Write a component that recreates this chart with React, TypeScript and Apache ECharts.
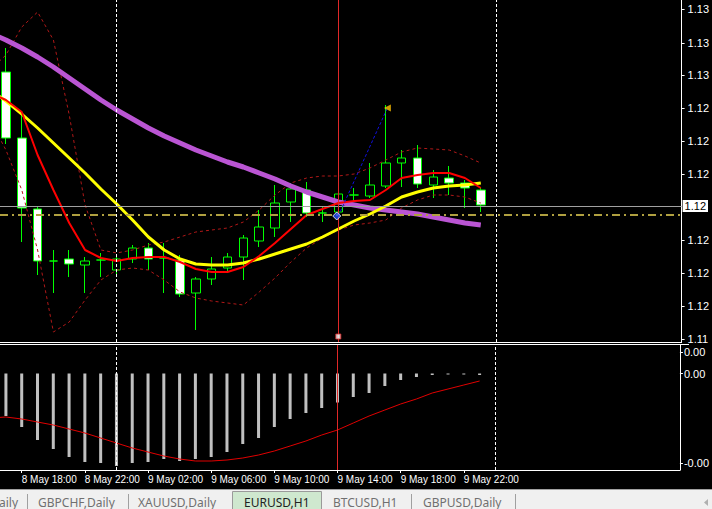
import React, { useEffect, useRef } from 'react';
import * as echarts from 'echarts';

// ---------- data ----------
// bar index 0 = 8 May 17:00 (H1 bars)
const candleOpen = [1.13040, 1.12776, 1.12492, 1.12284, 1.12292, 1.12268, 1.12288, 1.12248, 1.12292, 1.12336, 1.12296, 1.12288, 1.12156, 1.12212, 1.12256, 1.12300, 1.12364, 1.12416, 1.12520, 1.12568, 1.12476, 1.12480, 1.12548, 1.12544, 1.12584, 1.12676, 1.12696, 1.12588, 1.12616, 1.12596, 1.12568];
const candleClose = [1.12776, 1.12496, 1.12284, 1.12284, 1.12272, 1.12284, 1.12288, 1.12292, 1.12336, 1.12292, 1.12296, 1.12152, 1.12212, 1.12252, 1.12300, 1.12376, 1.12420, 1.12516, 1.12572, 1.12476, 1.12476, 1.12552, 1.12548, 1.12588, 1.12676, 1.12696, 1.12592, 1.12620, 1.12596, 1.12576, 1.12508];
const candleLow = [1.12752, 1.12360, 1.12228, 1.12156, 1.12220, 1.12156, 1.12220, 1.12228, 1.12276, 1.12248, 1.12156, 1.12140, 1.12008, 1.12188, 1.12236, 1.12208, 1.12340, 1.12380, 1.12440, 1.12460, 1.12440, 1.12428, 1.12520, 1.12536, 1.12576, 1.12580, 1.12576, 1.12536, 1.12548, 1.12496, 1.12480];
const candleHigh = [1.13136, 1.12884, 1.12504, 1.12328, 1.12328, 1.12300, 1.12316, 1.12308, 1.12348, 1.12356, 1.12356, 1.12308, 1.12220, 1.12300, 1.12316, 1.12388, 1.12488, 1.12588, 1.12596, 1.12600, 1.12500, 1.12608, 1.12576, 1.12676, 1.12908, 1.12728, 1.12748, 1.12648, 1.12664, 1.12608, 1.12580];

// indicator lines start one bar earlier (index -1 = 8 May 16:00)
const maSlow = [1.13196, 1.13168, 1.13136, 1.13100, 1.13060, 1.13016, 1.12972, 1.12928, 1.12888, 1.12852, 1.12816, 1.12784, 1.12756, 1.12728, 1.12704, 1.12680, 1.12660, 1.12636, 1.12612, 1.12584, 1.12560, 1.12540, 1.12520, 1.12508, 1.12496, 1.12488, 1.12480, 1.12472, 1.12460, 1.12448, 1.12436, 1.12428];
const maMid = [1.12968, 1.12924, 1.12872, 1.12816, 1.12756, 1.12696, 1.12636, 1.12572, 1.12512, 1.12448, 1.12380, 1.12328, 1.12292, 1.12272, 1.12268, 1.12268, 1.12276, 1.12292, 1.12312, 1.12332, 1.12352, 1.12380, 1.12412, 1.12444, 1.12472, 1.12504, 1.12540, 1.12560, 1.12576, 1.12584, 1.12588, 1.12596];
const maFast = [1.12956, 1.12928, 1.12880, 1.12708, 1.12568, 1.12436, 1.12328, 1.12296, 1.12284, 1.12296, 1.12300, 1.12300, 1.12280, 1.12252, 1.12240, 1.12240, 1.12260, 1.12304, 1.12356, 1.12412, 1.12468, 1.12492, 1.12516, 1.12524, 1.12528, 1.12568, 1.12616, 1.12628, 1.12636, 1.12636, 1.12616, 1.12576];
const bandUpper = [1.13048, 1.13108, 1.13220, 1.13280, 1.13168, 1.12868, 1.12508, 1.12328, 1.12316, 1.12328, 1.12348, 1.12360, 1.12380, 1.12400, 1.12408, 1.12416, 1.12440, 1.12488, 1.12548, 1.12596, 1.12616, 1.12624, 1.12624, 1.12632, 1.12656, 1.12688, 1.12720, 1.12736, 1.12732, 1.12728, 1.12704, 1.12676];
const bandLower = [1.12848, 1.12728, 1.12568, 1.12328, 1.12000, 1.12040, 1.12128, 1.12208, 1.12248, 1.12256, 1.12248, 1.12208, 1.12160, 1.12136, 1.12124, 1.12116, 1.12108, 1.12160, 1.12216, 1.12280, 1.12336, 1.12376, 1.12408, 1.12428, 1.12436, 1.12448, 1.12496, 1.12528, 1.12548, 1.12548, 1.12540, 1.12516];

// MACD window (bar index 0..30), signal from index -1
const macdHist = [-0.00085, -0.00107, -0.00133, -0.00151, -0.00167, -0.00177, -0.00179, -0.00185, -0.00179, -0.00177, -0.00171, -0.00175, -0.00171, -0.00167, -0.00157, -0.00141, -0.00129, -0.00107, -0.00091, -0.00079, -0.00069, -0.00058, -0.00047, -0.00039, -0.00025, -0.00013, -0.00007, -0.00003, -0.00002, -0.00002, -0.00003];
const macdSignal = [-0.00089, -0.00087, -0.00091, -0.00097, -0.00103, -0.00111, -0.00119, -0.00129, -0.00139, -0.00149, -0.00157, -0.00165, -0.00171, -0.00175, -0.00175, -0.00173, -0.00169, -0.00163, -0.00155, -0.00145, -0.00135, -0.00123, -0.00113, -0.00099, -0.00085, -0.00073, -0.00061, -0.00051, -0.00039, -0.00031, -0.00023, -0.00015];

const timeTickIndex = [1, 5, 9, 13, 17, 21, 25, 29];
const timeTickLabels = ['8 May 18:00', '8 May 22:00', '9 May 02:00', '9 May 06:00', '9 May 10:00', '9 May 14:00', '9 May 18:00', '9 May 22:00'];
const priceTicks = [1.13292, 1.13156, 1.13028, 1.12896, 1.12764, 1.12632, 1.12368, 1.12236, 1.12104, 1.11972];
const macdTicks = [0.00043, 0, -0.00179];
const macdTickLabels = ['0.00', '0.00', '-0.00'];

const bidPrice = 1.12504;
const levelPrice = 1.12468;
const daySeparators = [7, 31];
const markerBar = 21;
const trendStart = [21, 1.12464];
const trendEnd = [24.1, 1.12896];

const tabs = ['aily', 'GBPCHF,Daily', 'XAUUSD,Daily', 'EURUSD,H1', 'BTCUSD,H1', 'GBPUSD,Daily'];

export default function App() {
  const ref = useRef<HTMLDivElement>(null);
  useEffect(() => {
    if (!ref.current) return;
    const chart = echarts.init(ref.current, null, { renderer: 'svg' });
    const FONT = 'Liberation Sans, Arial, sans-serif';
    const TAB_FONT = 'Noto Sans, sans-serif';
    const candles = candleOpen.map((o, i) => [i, o, candleClose[i], candleLow[i], candleHigh[i]]);
    const line = (arr: number[]) => arr.map((v, k) => [k - 1, v]);
    const hist = macdHist.map((v, i) => [i, v]);
    const noLabel = { show: false };

    const vSep = (gridColor: string) =>
      daySeparators.map((x) => ({ xAxis: x, lineStyle: { color: gridColor, type: [3, 2], width: 1 }, label: noLabel }));

    const tabPos = [-1, 38, 138, 244, 333, 423];
    const tabSepX = [27, 128, 411, 515];

    const graphic: any[] = [
      { type: 'line', shape: { x1: 0, y1: 344.5, x2: 689, y2: 344.5 }, style: { stroke: '#fff', lineWidth: 1 } },
      { type: 'rect', shape: { x: 0, y: 489, width: 712, height: 20 }, style: { fill: '#f0f0f0' } },
      { type: 'line', shape: { x1: 0, y1: 489.5, x2: 712, y2: 489.5 }, style: { stroke: '#a0a0a0', lineWidth: 1 } },
      { type: 'rect', shape: { x: 232.5, y: 491.5, width: 89, height: 18 }, style: { fill: '#cfe8cf', stroke: '#9a9a9a', lineWidth: 1 } },
      ...tabSepX.map((x) => ({ type: 'line', shape: { x1: x + 0.5, y1: 494, x2: x + 0.5, y2: 509 }, style: { stroke: '#a0a0a0', lineWidth: 1 } })),
      ...tabs.map((t, k) => ({
        type: 'text', x: tabPos[k], y: 502,
        style: { text: t, fill: k === 3 ? '#222' : '#707070', font: `12px ${TAB_FONT}`, textVerticalAlign: 'middle' },
      })),
      { type: 'polygon', shape: { points: [[708, 499], [704, 502.5], [708, 506]] }, style: { fill: '#b0b0b0' } },
    ];

    const option: any = {
      animation: false,
      backgroundColor: '#000',
      graphic,
      grid: [
        { left: 0, top: 0, width: 689, height: 342 },
        { left: 0, top: 345, width: 689, height: 125 },
      ],
      xAxis: [
        {
          type: 'value', gridIndex: 0, min: -0.375, max: 42.6875,
          axisLine: { show: true, onZero: false, lineStyle: { color: '#fff' } },
          axisTick: { show: false }, axisLabel: { show: false }, splitLine: { show: false },
        },
        {
          type: 'value', gridIndex: 1, min: -0.375, max: 42.6875,
          axisLine: { show: true, onZero: false, lineStyle: { color: '#fff' } },
          axisTick: { show: true, length: 3, customValues: timeTickIndex, lineStyle: { color: '#fff' } },
          axisLabel: {
            show: true, customValues: timeTickIndex,
            formatter: (v: number) => timeTickLabels[timeTickIndex.indexOf(v)] ?? '',
            color: '#fff', fontSize: 10, fontFamily: FONT, align: 'left', margin: 4,
          },
          splitLine: { show: false },
        },
      ],
      yAxis: [
        {
          type: 'value', gridIndex: 0, position: 'right', min: 1.11960, max: 1.13328,
          axisLine: { show: true, onZero: false, lineStyle: { color: '#fff' } },
          axisTick: { show: true, length: 3, customValues: priceTicks, lineStyle: { color: '#fff' } },
          axisLabel: {
            customValues: priceTicks, formatter: (v: number) => v.toFixed(5).slice(0, 4),
            color: '#fff', fontSize: 11, fontFamily: FONT, margin: 6,
          },
          splitLine: { show: false },
        },
        {
          type: 'value', gridIndex: 1, position: 'right', min: -0.00193, max: 0.00057,
          axisLine: { show: true, onZero: false, lineStyle: { color: '#fff' } },
          axisTick: { show: true, length: 3, customValues: macdTicks, lineStyle: { color: '#fff' } },
          axisLabel: {
            customValues: macdTicks,
            formatter: (v: number) => macdTickLabels[macdTicks.indexOf(v)] ?? '',
            color: '#fff', fontSize: 11, fontFamily: FONT, margin: 4,
          },
          splitLine: { show: false },
        },
      ],
      series: [
        {
          type: 'line', name: 'bbUpper', xAxisIndex: 0, yAxisIndex: 0, data: line(bandUpper),
          symbol: 'none', lineStyle: { color: '#b01818', width: 1, type: [3, 3] },
        },
        {
          type: 'line', name: 'bbLower', xAxisIndex: 0, yAxisIndex: 0, data: line(bandLower),
          symbol: 'none', lineStyle: { color: '#b01818', width: 1, type: [3, 3] },
        },
        {
          type: 'candlestick', name: 'EURUSD', xAxisIndex: 0, yAxisIndex: 0, data: candles,
          encode: { x: 0, y: [1, 2, 3, 4] }, barWidth: 9,
          itemStyle: { color: '#000', color0: '#fff', borderColor: '#00ff00', borderColor0: '#00ff00', borderWidth: 1 },
        },
        {
          type: 'line', name: 'maSlow', xAxisIndex: 0, yAxisIndex: 0, data: line(maSlow),
          symbol: 'none', lineStyle: { color: '#ba55d3', width: 5 },
        },
        {
          type: 'line', name: 'maMid', xAxisIndex: 0, yAxisIndex: 0, data: line(maMid),
          symbol: 'none', lineStyle: { color: '#ffff00', width: 3 },
        },
        {
          type: 'line', name: 'maFast', xAxisIndex: 0, yAxisIndex: 0, data: line(maFast),
          symbol: 'none', lineStyle: { color: '#ff0000', width: 2 },
        },
        {
          type: 'scatter', name: 'marks', xAxisIndex: 0, yAxisIndex: 0, z: 5,
          data: [
            { value: [trendEnd[0], trendEnd[1]], symbol: 'triangle', symbolRotate: 90, symbolSize: 7, itemStyle: { color: '#ffc000' } },
            { value: [trendStart[0] - 0.1, trendStart[1]], symbol: 'diamond', symbolSize: 8, itemStyle: { color: '#2850ff', borderColor: '#fff', borderWidth: 1 } },
            { value: [markerBar, 1.11982], symbol: 'rect', symbolSize: 5, itemStyle: { color: '#fff', borderColor: '#e02828', borderWidth: 1 } },
          ],
          markLine: {
            silent: true, symbol: 'none', animation: false, precision: 5,
            data: [
              ...vSep('#ffffff'),
              {
                yAxis: bidPrice, lineStyle: { color: '#a0a0a0', type: 'solid', width: 1 },
                label: {
                  show: true, position: 'end', formatter: '1.12', backgroundColor: '#fff', color: '#000',
                  padding: [1, 2, 0, 2], distance: 1, fontSize: 11, fontFamily: FONT,
                },
              },
              { yAxis: levelPrice, lineStyle: { color: '#b0a040', type: [8, 4, 2, 4], width: 2 }, label: noLabel },
              { xAxis: markerBar, lineStyle: { color: '#e02828', type: 'solid', width: 1 }, label: noLabel },
              [
                { coord: trendStart, lineStyle: { color: '#1010e0', type: [3, 2], width: 1 }, label: noLabel },
                { coord: trendEnd },
              ],
            ],
          },
        },
        {
          type: 'bar', name: 'MACD', xAxisIndex: 1, yAxisIndex: 1, data: hist, barWidth: 3,
          itemStyle: { color: '#c0c0c0' },
        },
        {
          type: 'line', name: 'Signal', xAxisIndex: 1, yAxisIndex: 1, data: line(macdSignal),
          symbol: 'none', lineStyle: { color: '#e00000', width: 1 },
          markLine: {
            silent: true, symbol: 'none', animation: false, precision: 5,
            data: [
              ...vSep('#ffffff'),
              { xAxis: markerBar, lineStyle: { color: '#e02828', type: 'solid', width: 1 }, label: noLabel },
            ],
          },
        },
      ],
    };
    chart.setOption(option);
    return () => chart.dispose();
  }, []);
  return <div ref={ref} style={{ position: 'absolute', left: 0, top: 0, width: 712, height: 509, background: '#000' }} />;
}
